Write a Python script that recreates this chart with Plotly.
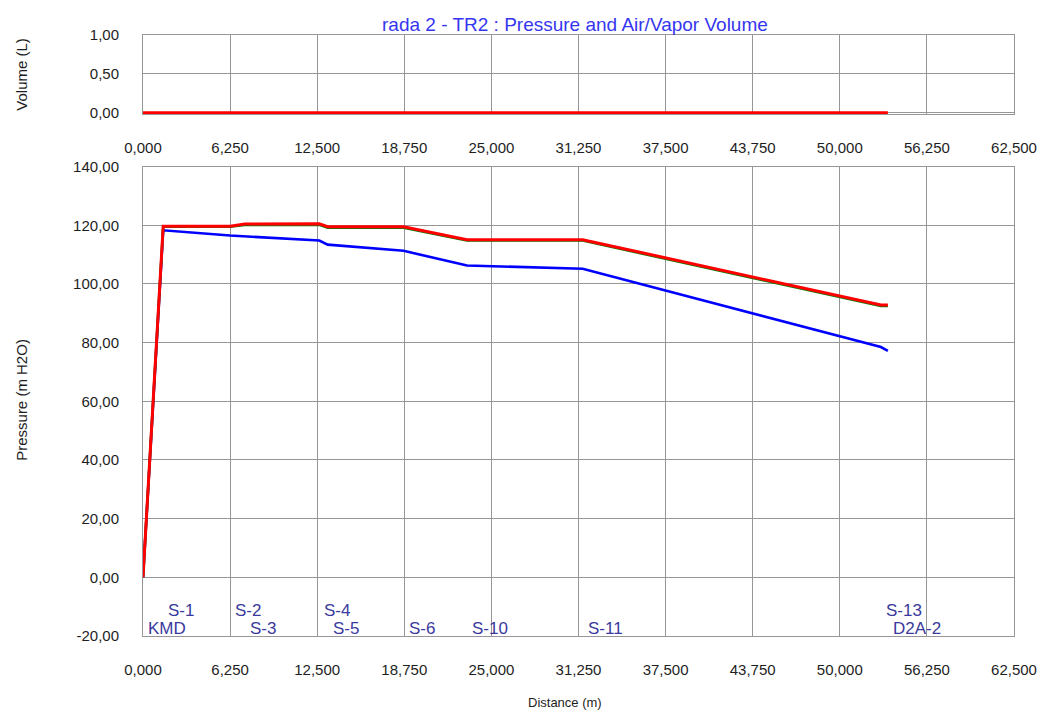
import plotly.graph_objects as go

# Pipeline nodes along the route
stations = ["KMD", "S-1", "S-2", "S-3", "S-4", "S-5", "S-6", "S-10", "S-11", "S-13", "D2A-2"]
distance_m = [0, 1450, 6250, 7300, 12650, 13250, 18700, 23250, 31550, 52950, 53450]

# Pressure envelopes (m H2O)
pressure_max = [0.0, 119.7, 119.7, 120.4, 120.5, 119.5, 119.5, 115.1, 115.1, 92.8, 92.8]
pressure_steady = [0.0, 119.5, 119.5, 120.1, 120.2, 119.2, 119.2, 114.8, 114.8, 92.5, 92.5]
pressure_min = [0.0, 118.3, 116.5, 116.2, 114.8, 113.4, 111.3, 106.3, 105.2, 78.5, 77.2]

# Air/vapor volume (L)
volume_l = [0.0, 0.0, 0.0, 0.0, 0.0, 0.0, 0.0, 0.0, 0.0, 0.0, 0.0]

# Axis ticks
dist_ticks = [0, 6250, 12500, 18750, 25000, 31250, 37500, 43750, 50000, 56250, 62500]
dist_tick_text = ["0,000", "6,250", "12,500", "18,750", "25,000", "31,250",
                  "37,500", "43,750", "50,000", "56,250", "62,500"]
pres_ticks = [-20, 0, 20, 40, 60, 80, 100, 120, 140]
pres_tick_text = ["-20,00", "0,00", "20,00", "40,00", "60,00", "80,00",
                  "100,00", "120,00", "140,00"]
vol_ticks = [0, 0.5, 1.0]
vol_tick_text = ["0,00", "0,50", "1,00"]

FONT = "Liberation Sans, Arial, sans-serif"
GRID = "#969696"
TEXT = "#1e1e1e"
TICK_FONT = dict(family=FONT, size=15, color=TEXT)

fig = go.Figure()

# Volume chart
fig.add_trace(go.Scatter(x=distance_m, y=volume_l, mode="lines",
                         line=dict(color="#ff0000", width=3),
                         xaxis="x", yaxis="y", showlegend=False))

# Pressure chart
fig.add_trace(go.Scatter(x=distance_m, y=pressure_min, mode="lines",
                         line=dict(color="#0000ff", width=2.6),
                         xaxis="x2", yaxis="y2", showlegend=False))
fig.add_trace(go.Scatter(x=distance_m, y=pressure_steady, mode="lines",
                         line=dict(color="#008000", width=2.6),
                         xaxis="x2", yaxis="y2", showlegend=False))
fig.add_trace(go.Scatter(x=distance_m, y=pressure_max, mode="lines",
                         line=dict(color="#ff0000", width=3),
                         xaxis="x2", yaxis="y2", showlegend=False))

common_x = dict(range=[0, 62500], tickvals=dist_ticks, ticktext=dist_tick_text,
                showgrid=True, gridcolor=GRID, gridwidth=1, zeroline=False,
                showline=True, linecolor=GRID, linewidth=1, mirror=True,
                ticks="", ticklabelstandoff=20, tickfont=TICK_FONT,
                automargin=False)
common_y = dict(showgrid=True, gridcolor=GRID, gridwidth=1, zeroline=False,
                showline=True, linecolor=GRID, linewidth=1, mirror=True,
                ticks="", ticklabelstandoff=20, tickfont=TICK_FONT,
                automargin=False)

fig.update_layout(
    width=1044, height=711,
    margin=dict(l=143, r=30, t=35, b=75),
    paper_bgcolor="white", plot_bgcolor="white",
    xaxis=dict(domain=[0, 1], anchor="y", **common_x),
    yaxis=dict(domain=[0.868, 1], anchor="x", range=[-0.02, 1.0],
               tickvals=vol_ticks, ticktext=vol_tick_text, **common_y),
    xaxis2=dict(domain=[0, 1], anchor="y2", **common_x),
    yaxis2=dict(domain=[0, 0.781], anchor="x2", range=[-20, 140],
                tickvals=pres_ticks, ticktext=pres_tick_text, **common_y),
)

annotations = [
    dict(text="rada 2 - TR2 : Pressure and Air/Vapor Volume", x=0.496, y=1.017,
         xref="paper", yref="paper", xanchor="center", yanchor="middle",
         showarrow=False, font=dict(family=FONT, size=19, color="#3636f0")),
    dict(text="Volume (L)", x=0, y=0.934, xref="paper", yref="paper",
         xanchor="center", yanchor="middle", xshift=-121, textangle=-90,
         showarrow=False, font=dict(family=FONT, size=15, color=TEXT)),
    dict(text="Pressure (m H2O)", x=0, y=0.393, xref="paper", yref="paper",
         xanchor="center", yanchor="middle", xshift=-121, textangle=-90,
         showarrow=False, font=dict(family=FONT, size=15, color=TEXT)),
    dict(text="Distance (m)", x=0.4845, y=-0.11, xref="paper", yref="paper",
         xanchor="center", yanchor="middle",
         showarrow=False, font=dict(family=FONT, size=13, color=TEXT)),
]

# Node names along the bottom of the pressure chart, staggered on two rows
label_row = [0, 1, 1, 0, 1, 0, 0, 0, 0, 1, 0]
row_y = [-17.3, -11.2]
for name, d, r in zip(stations, distance_m, label_row):
    annotations.append(dict(text=name, x=d, y=row_y[r], xref="x2", yref="y2",
                            xanchor="left", yanchor="middle", xshift=3,
                            showarrow=False,
                            font=dict(family=FONT, size=17, color="#3a3a9c")))

fig.update_layout(annotations=annotations)

fig.write_html("out.html")
